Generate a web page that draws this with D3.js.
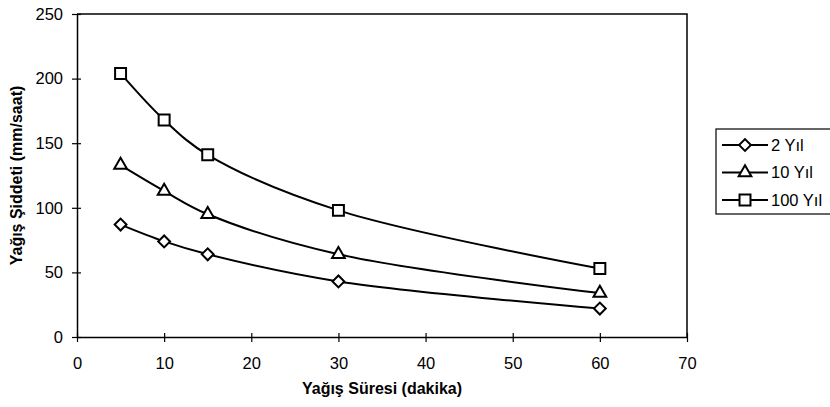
<!DOCTYPE html>
<html>
  <meta charset="utf-8" />
  <style>
    body { margin: 0; background: #fff; }
    text { font-family: "Liberation Sans", Arial, sans-serif; fill: #000; }
  </style>
  <svg width="830" height="407"></svg>
  <script src="https://d3js.org/d3.v7.min.js"></script>
  <script>
    // rain duration (minutes) and intensity (mm/h) per return period
    const durations = [5, 10, 15, 30, 60];
    const yil2 = [87, 74, 64, 43, 22];
    const yil10 = [133, 113, 95, 64, 34];
    const yil100 = [204, 168, 141, 98, 53];
    const seriesNames = ["2 Yıl", "10 Yıl", "100 Yıl"];
    const xTicks = [0, 10, 20, 30, 40, 50, 60, 70];
    const yTicks = [0, 50, 100, 150, 200, 250];

    const series = [
      { name: seriesNames[0], values: yil2, marker: "diamond" },
      { name: seriesNames[1], values: yil10, marker: "triangle" },
      { name: seriesNames[2], values: yil100, marker: "square" },
    ];

    const margin = { top: 14, right: 143, bottom: 70, left: 77 };
    var svg = d3.select("svg");
    var width = +svg.attr("width");
    var height = +svg.attr("height");
    const plotW = width - margin.left - margin.right;
    const plotH = height - margin.top - margin.bottom;

    const x = d3.scaleLinear().domain([0, 70]).range([0, plotW]);
    const y = d3.scaleLinear().domain([0, 250]).range([plotH, 0]);

    const g = svg
      .append("g")
      .attr("transform", `translate(${margin.left},${margin.top})`);

    // frame (top and right)
    g.append("path")
      .attr("d", `M0,0H${plotW}V${plotH}`)
      .attr("fill", "none")
      .attr("stroke", "#000")
      .attr("stroke-width", 1.5);

    // x axis, ticks crossing the line
    const xAxis = g
      .append("g")
      .attr("transform", `translate(0,${plotH})`)
      .call(d3.axisBottom(x).tickValues(xTicks).tickSize(5).tickSizeOuter(0).tickPadding(15));
    xAxis.select(".domain").attr("stroke-width", 1.5);
    xAxis.selectAll(".tick line").attr("y1", -4).attr("stroke-width", 1.2);
    xAxis.selectAll("text").attr("font-size", 16.5).attr("font-family", "Liberation Sans, Arial, sans-serif");

    const yAxis = g
      .append("g")
      .call(d3.axisLeft(y).tickValues(yTicks).tickSize(5).tickSizeOuter(0).tickPadding(9));
    yAxis.select(".domain").attr("stroke-width", 1.5);
    yAxis.selectAll(".tick line").attr("x1", 4).attr("stroke-width", 1.2);
    yAxis.selectAll("text").attr("font-size", 16.5).attr("font-family", "Liberation Sans, Arial, sans-serif");

    // axis titles
    svg
      .append("text")
      .attr("x", margin.left + plotW / 2)
      .attr("y", 394)
      .attr("text-anchor", "middle")
      .attr("font-size", 16)
      .attr("font-weight", "bold")
      .text("Yağış Süresi (dakika)");

    svg
      .append("text")
      .attr("transform", `translate(22,${margin.top + plotH / 2}) rotate(-90)`)
      .attr("text-anchor", "middle")
      .attr("font-size", 16)
      .attr("font-weight", "bold")
      .text("Yağış Şiddeti (mm/saat)");

    // diamond = square turned 45 degrees
    const symbolFor = {
      diamond: { d: d3.symbol().type(d3.symbolSquare).size(70)(), rot: 45 },
      triangle: { d: d3.symbol().type(d3.symbolTriangle).size(70)(), rot: 0 },
      square: { d: d3.symbol().type(d3.symbolSquare).size(120)(), rot: 0 },
    };

    const line = d3
      .line()
      .x((d, i) => x(durations[i]))
      .y((d) => y(d))
      .curve(d3.curveCatmullRom);

    series.forEach((s) => {
      g.append("path")
        .attr("d", line(s.values))
        .attr("fill", "none")
        .attr("stroke", "#000")
        .attr("stroke-width", 2);

      const sym = symbolFor[s.marker];
      g.selectAll(null)
        .data(s.values)
        .join("path")
        .attr("transform", (d, i) => `translate(${x(durations[i])},${y(d)}) rotate(${sym.rot})`)
        .attr("d", sym.d)
        .attr("fill", "#fff")
        .attr("stroke", "#000")
        .attr("stroke-width", 2);
    });

    // legend
    const legend = svg.append("g").attr("transform", "translate(716,129)");
    legend
      .append("rect")
      .attr("width", 120)
      .attr("height", 85)
      .attr("fill", "#fff")
      .attr("stroke", "#000")
      .attr("stroke-width", 1.2);

    const item = legend
      .selectAll("g.item")
      .data(series)
      .join("g")
      .attr("class", "item")
      .attr("transform", (d, i) => `translate(0,${16 + i * 27.5})`);
    item
      .append("line")
      .attr("x1", 6)
      .attr("x2", 52)
      .attr("stroke", "#000")
      .attr("stroke-width", 2);
    item
      .append("path")
      .attr("transform", (d) => `translate(29,0) rotate(${symbolFor[d.marker].rot})`)
      .attr("d", (d) => symbolFor[d.marker].d)
      .attr("fill", "#fff")
      .attr("stroke", "#000")
      .attr("stroke-width", 2);
    item
      .append("text")
      .attr("x", 55)
      .attr("dy", "0.36em")
      .attr("font-size", 16.5)
      .text((d) => d.name);
  </script>
</html>
